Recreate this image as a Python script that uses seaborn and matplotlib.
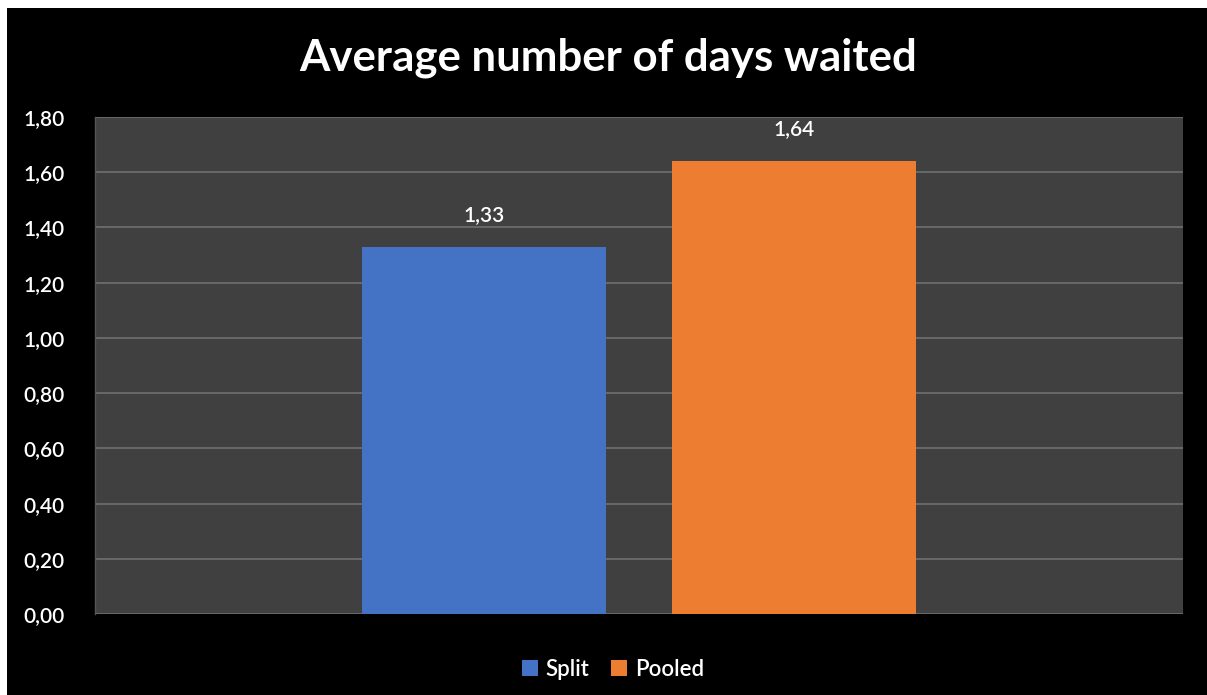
import matplotlib
matplotlib.use("Agg")
import matplotlib.pyplot as plt
import seaborn as sns
import pandas as pd
from matplotlib.patches import Rectangle

# Data
groups = ["Split", "Pooled"]
avg_days = [1.33, 1.64]
category = ["Average number of days waited"] * len(groups)
y_ticks = [0.0, 0.2, 0.4, 0.6, 0.8, 1.0, 1.2, 1.4, 1.6, 1.8]
colors = ["#4472C4", "#ED7D31"]

df = pd.DataFrame({"category": category, "group": groups, "days": avg_days})

sns.set_theme(style="dark")
plt.rcParams["font.family"] = ["Lato", "DejaVu Sans"]

fig = plt.figure(figsize=(12.07, 6.95), dpi=100, facecolor="white")
# black chart panel behind everything
fig.patches.append(Rectangle((7 / 1207, 0), 1 - 7 / 1207, 1 - 8 / 695,
                             transform=fig.transFigure, facecolor="black",
                             edgecolor="none", zorder=-10))

ax = fig.add_axes([95 / 1207, 1 - 614 / 695, (1183 - 95) / 1207, (614 - 117) / 695])
ax.set_zorder(1)
ax.set_facecolor("#404040")

sns.barplot(data=df, x="category", y="days", hue="group", palette=colors,
            width=0.569, gap=0.21, ax=ax, legend=True, saturation=1,
            linewidth=0, edgecolor="none")

ax.set_xlim(-0.5, 0.5)
ax.set_ylim(0, 1.8)
ax.set_yticks(y_ticks)
ax.set_yticklabels([f"{v:.2f}".replace(".", ",") for v in y_ticks],
                   color="white", fontsize=15, fontweight="semibold")
ax.tick_params(axis="y", length=0, pad=22)
ax.set_xticks([])
ax.set_xlabel("")
ax.set_ylabel("")
ax.grid(axis="y", color="#707070", linewidth=1.2)
ax.grid(axis="x", visible=False)
ax.set_axisbelow(True)
for side, sp in ax.spines.items():
    sp.set_visible(side == "left")
ax.spines["left"].set_color("#555555")
ax.spines["left"].set_linewidth(1)

for cont in ax.containers:
    ax.bar_label(cont, labels=[f"{v:.2f}".replace(".", ",") for v in cont.datavalues],
                 color="white", fontsize=15, fontweight="semibold", padding=16)

leg = ax.legend(loc="upper center", bbox_to_anchor=(0.476, -0.05), ncol=2,
                frameon=False, handlelength=0.7, handleheight=0.7,
                handletextpad=0.35, columnspacing=1.0, labelcolor="white",
                prop={"size": 16, "weight": "semibold"})

fig.text(0.5 + 5 / 1207, 1 - 58 / 695, "Average number of days waited", color="white",
         fontsize=31.5, fontweight="bold", ha="center", va="center")

fig.savefig("out.png", dpi=100, facecolor=fig.get_facecolor())
